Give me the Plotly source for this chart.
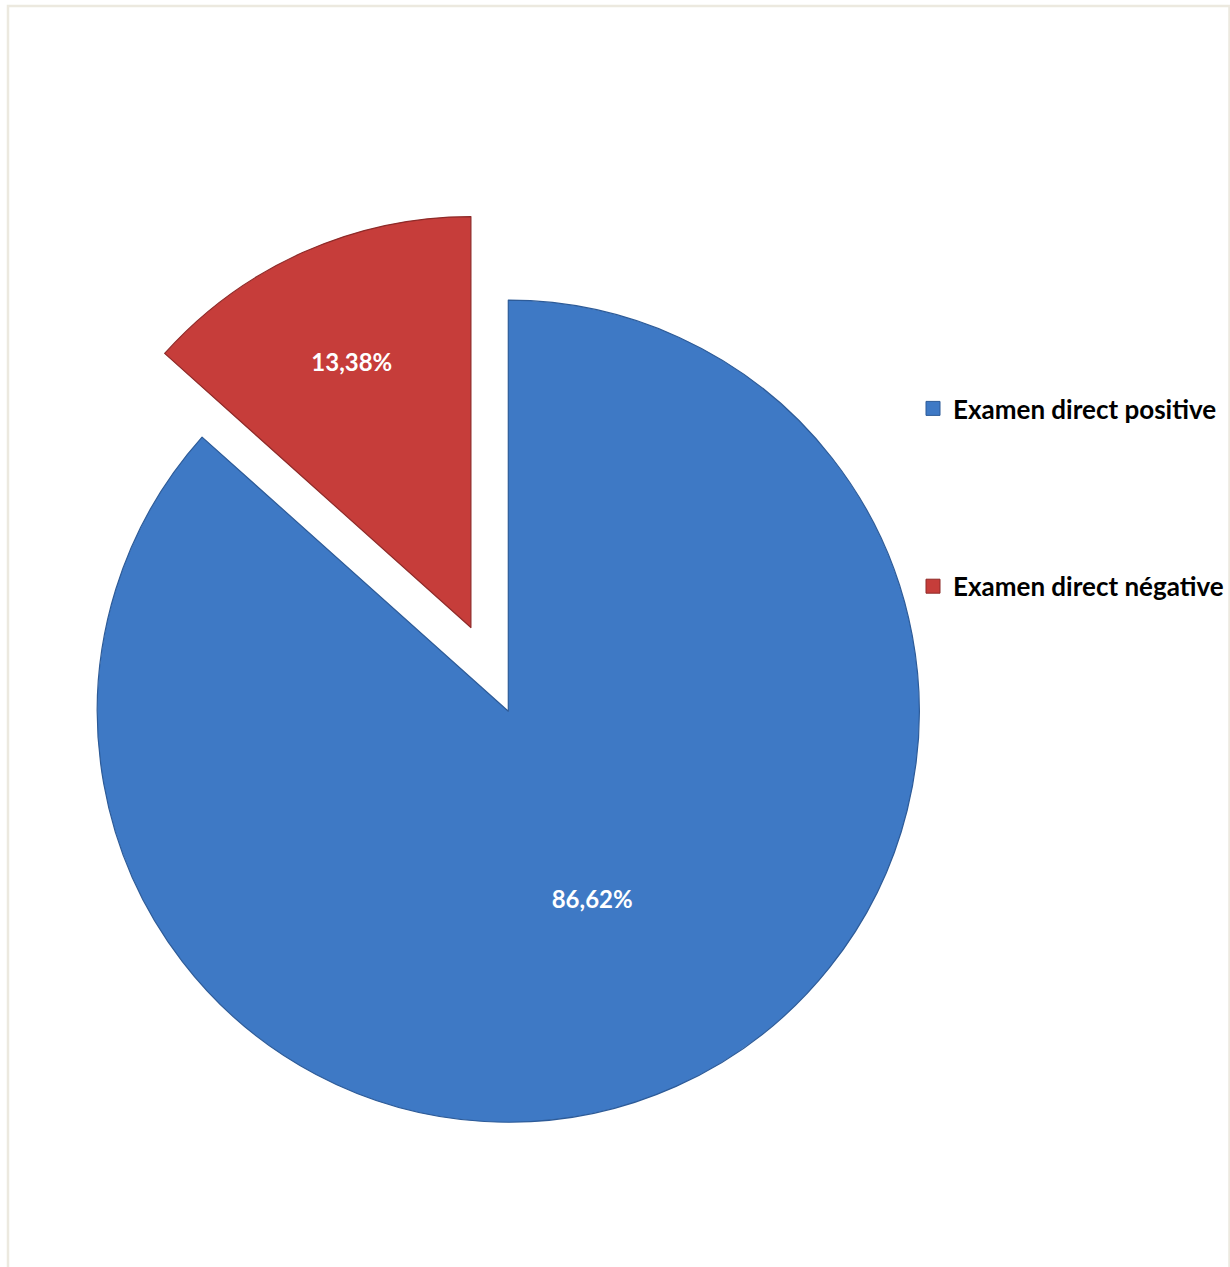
import plotly.graph_objects as go

categories = ["Examen direct positive", "Examen direct négative"]
values = [86.62, 13.38]
colors = ["#3e79c5", "#c63d3a"]
edge_colors = ["#2d5b98", "#8e2a28"]
pulls = [0, 0.223]

texts = [f"{v:.2f}".replace(".", ",") + "%" for v in values]

W, H = 1230, 1267
cx, cy, r = 508.3, 711.2, 411
half = r * (1 + max(pulls))

fig = go.Figure()
fig.add_trace(go.Pie(
    labels=categories,
    values=values,
    text=texts,
    textinfo="text",
    textposition="inside",
    insidetextorientation="horizontal",
    sort=False,
    direction="clockwise",
    rotation=0,
    pull=pulls,
    marker=dict(colors=colors, line=dict(color=edge_colors, width=1.2)),
    textfont=dict(family="Lato", size=24, color="white", weight="bold"),
    showlegend=False,
    hoverinfo="skip",
    domain=dict(x=[(cx - half) / W, (cx + half) / W],
                y=[(H - (cy + half)) / H, (H - (cy - half)) / H]),
))

# legend entries
for name, col, ec in zip(categories, colors, edge_colors):
    fig.add_trace(go.Scatter(
        x=[None], y=[None], mode="markers", name=name, legendgroup=name,
        marker=dict(symbol="square", size=14, color=col, line=dict(color=ec, width=1)),
        hoverinfo="skip",
    ))

fig.update_layout(
    width=W, height=H,
    margin=dict(l=0, r=0, t=0, b=0),
    paper_bgcolor="white", plot_bgcolor="white",
    xaxis=dict(visible=False), yaxis=dict(visible=False),
    showlegend=True,
    legend=dict(
        x=913 / W, y=1 - 385 / H, xanchor="left", yanchor="top",
        traceorder="grouped", tracegroupgap=141,
        font=dict(family="Lato", size=26, color="black", weight="bold"),
        bgcolor="rgba(0,0,0,0)",
    ),
    shapes=[dict(type="rect", xref="paper", yref="paper",
                 x0=8 / W, x1=1229.5 / W, y0=-0.02, y1=1 - 6 / H,
                 line=dict(color="#ECE9DF", width=2.5), layer="below")],
)

fig.write_html("out.html", config={"displayModeBar": False},
               post_script="document.body.style.margin='0';")
